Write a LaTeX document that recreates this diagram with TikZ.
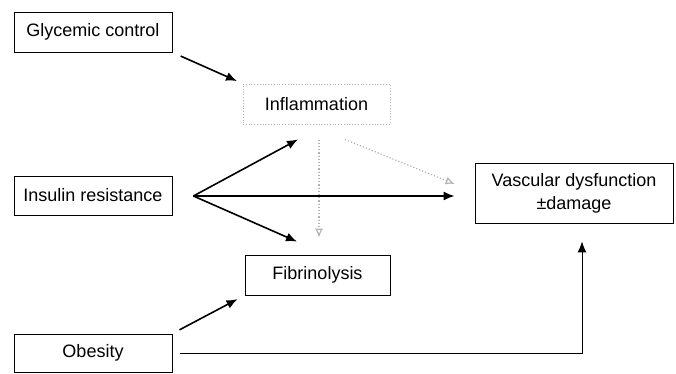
\documentclass[tikz,border=0pt]{standalone}
\usepackage{fontspec}
\setmainfont{Liberation Sans}
\usetikzlibrary{arrows.meta,calc}
\begin{document}
\begin{tikzpicture}[x=1pt,y=1pt,
        box/.style={draw,line width=0.8pt,inner sep=0pt,font=\fontsize{18}{23}\selectfont,align=center},
        arr/.style={line width=1.6pt,-{Latex[length=11pt,width=9pt]}},
        grayarr/.style={gray!60,line width=1.2pt,dotted,-{Latex[open,length=9pt,width=8pt]}}]
        \useasboundingbox (0,0) rectangle (676,373);

        % boxes (y counted up from the bottom edge)
        \node[box,minimum width=158pt,minimum height=40pt] (glyc) at (93,341) {Glycemic control};
        \node[box,draw=gray!60,dotted,line width=1pt,minimum width=147pt,minimum height=40pt] (infl) at (316.5,269) {Inflammation};
        \node[box,minimum width=158pt,minimum height=39pt] (ins) at (93,177.5) {Insulin resistance};
        \node[box,minimum width=198pt,minimum height=60pt] (vasc) at (574,180) {Vascular dysfunction\\ ±damage};
        \node[box,minimum width=145pt,minimum height=40pt] (fib) at (317.5,98) {Fibrinolysis};
        \node[box,minimum width=158pt,minimum height=38pt] (obes) at (93,20) {Obesity};

        \coordinate (fork) at ($(ins.east)+(21,-0.5)$);
        \coordinate (inflIn) at ($(infl.south)+(-18.5,-15)$);
        \coordinate (fibIn) at ($(fib.north)+(-20.5,13)$);
        \coordinate (inflOut) at ($(infl.south)+(28.5,-15)$);
        \coordinate (vascIn) at ($(vasc.west)+(-20,9)$);

        \draw[arr,shorten <=9pt,shorten >=6pt] (glyc.south east) -- (infl.north west);
        \draw[arr] (fork) -- (inflIn);
        \draw[arr] (fork) -- (fibIn);
        \draw[arr,shorten >=20pt] (fork) -- (fork -| vasc.west);
        \draw[grayarr,shorten <=15pt,shorten >=17pt] ($(infl.south)+(2.5,0)$) -- ($(fib.north)+(1.5,0)$);
        \draw[grayarr] (inflOut) -- (vascIn);
        \draw[arr,shorten <=8pt,shorten >=8pt] (obes.north east) -- (fib.south west);
        \draw[arr,line width=1pt,shorten <=8pt,shorten >=18pt] (obes.east) -| ($(vasc.south)+(8,0)$);
    \end{tikzpicture}
\end{document}
